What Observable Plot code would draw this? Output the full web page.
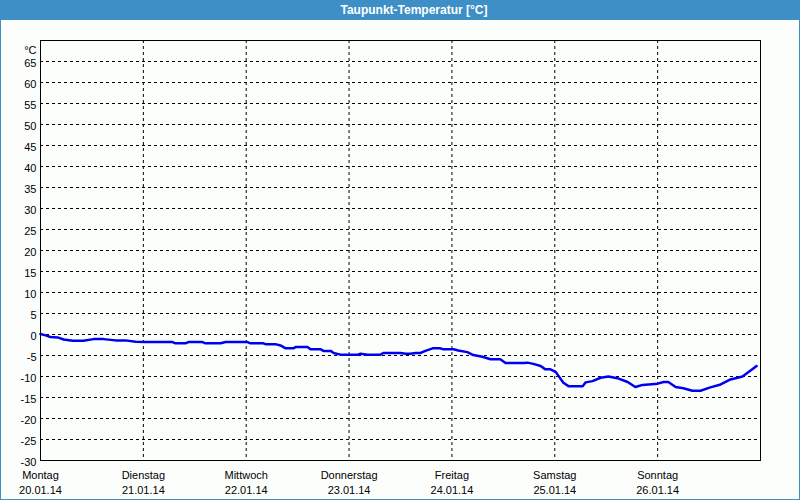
<!DOCTYPE html>
<html>
<head>
<meta charset="utf-8">
<script src="https://cdn.jsdelivr.net/npm/d3@7"></script>
<script src="https://cdn.jsdelivr.net/npm/@observablehq/plot@0.6"></script>
<style>
  html, body { margin: 0; padding: 0; background: #fcfefc; }
  #wrap { position: relative; width: 800px; height: 500px; overflow: hidden; background: #fcfefc; }
  #title { position: absolute; left: 0; top: 0; width: 800px; height: 20px; background: #3d8fc6;
           color: #fff; font: bold 12px "Liberation Sans", Arial, sans-serif; line-height: 20px; }
  #title span { position: absolute; left: 414px; top: 0; transform: translateX(-50%); white-space: nowrap; }
  #chart { position: absolute; left: 0; top: 20px; }
  .bl { position: absolute; background: #3d8fc6; }
</style>
</head>
<body>
<div id="wrap">
  <div id="title"><span>Taupunkt-Temperatur [°C]</span></div>
  <div id="chart"></div>
  <div class="bl" style="left:0;top:20px;width:1px;height:480px"></div>
  <div class="bl" style="left:799px;top:20px;width:1px;height:480px"></div>
  <div class="bl" style="left:0;top:499px;width:800px;height:1px"></div>
</div>
<script>
// Hours since Monday 20.01.14 00:00
const hours = [0,1.2,2.3,4,5.4,7.5,10,12.4,14.7,17.5,19.8,22.2,24.5,30.8,31.5,33.8,34.5,37.8,38.5,42,43.2,48.3,49,52,52.5,54.8,56,57.2,59,59.5,62.3,63,65.3,66,67.7,68.4,70,74,74.7,76.3,79.3,80,84,85.2,86.3,87.5,88.7,89.8,91.5,93.3,94,96.4,97.5,99.6,101,103.1,105,107.3,108.5,112.7,113.6,115,116.7,117.8,119,120.2,122,123.2,126.5,127.2,128.8,130.7,132.5,134.6,137,138.8,140.5,144,145.4,146.5,148.2,150,152.1,154,156.3,158.7,161,163.8,167.1];
// Dew point in °C
const dewpoint = [0.1,-0.2,-0.6,-0.7,-1.2,-1.5,-1.5,-1.1,-1.1,-1.4,-1.4,-1.7,-1.8,-1.8,-2.1,-2.1,-1.8,-1.8,-2.1,-2.1,-1.8,-1.8,-2.1,-2.1,-2.3,-2.3,-2.6,-3.3,-3.3,-3.0,-3.0,-3.5,-3.5,-3.9,-3.9,-4.4,-4.8,-4.8,-4.6,-4.8,-4.8,-4.4,-4.4,-4.6,-4.6,-4.4,-4.4,-3.9,-3.3,-3.3,-3.5,-3.5,-3.8,-4.2,-4.9,-5.3,-5.9,-5.9,-6.8,-6.8,-6.7,-7.0,-7.5,-8.3,-8.3,-8.9,-11.5,-12.3,-12.3,-11.4,-11.1,-10.3,-10.0,-10.4,-11.3,-12.5,-12.0,-11.7,-11.3,-11.3,-12.5,-12.8,-13.4,-13.4,-12.6,-11.9,-10.7,-10.0,-7.5];
const dayNames = ["Montag","Dienstag","Mittwoch","Donnerstag","Freitag","Samstag","Sonntag"];
const dayDates = ["20.01.14","21.01.14","22.01.14","23.01.14","24.01.14","25.01.14","26.01.14"];
const yTicks = [-30,-25,-20,-15,-10,-5,0,5,10,15,20,25,30,35,40,45,50,55,60,65];
const yUnit = "°C";

const start = Date.UTC(2014, 0, 20);
const end = Date.UTC(2014, 0, 27);
const dayStarts = dayNames.map((_, i) => new Date(start + i * 864e5));
const data = hours.map((h, i) => ({t: new Date(start + h * 3600e3), v: dewpoint[i]}));
const idx = d => Math.round((d - start) / 864e5);

const chart = Plot.plot({
  width: 800,
  height: 480,
  marginTop: 20,
  marginBottom: 40,
  marginLeft: 40,
  marginRight: 40,
  style: {fontFamily: '"Liberation Sans", Arial, sans-serif', fontSize: "11px", color: "#000", background: "transparent", overflow: "visible"},
  x: {type: "utc", domain: [new Date(start), new Date(end)], label: null},
  y: {domain: [-30, 70], label: null},
  marks: [
    Plot.ruleY(yTicks.filter(v => v > -30), {stroke: "#000", strokeWidth: 1, strokeDasharray: "3,3", strokeOpacity: 1}),
    Plot.ruleX(dayStarts.slice(1), {stroke: "#000", strokeWidth: 1, strokeDasharray: "3,3", strokeOpacity: 1}),
    Plot.line(data, {x: "t", y: "v", stroke: "#0000f0", strokeWidth: 2.5, curve: "linear"}),
    Plot.frame({stroke: "#000", strokeWidth: 1}),
    Plot.axisY({ticks: yTicks, tickSize: 0, tickPadding: 4, tickFormat: d => String(d), dy: 1.5, fontSize: 11, label: null}),
    Plot.text([yUnit], {frameAnchor: "top-left", text: d => d, dx: -4, dy: 6, textAnchor: "end", fontSize: 11, fill: "#000"}),
    Plot.axisX({ticks: dayStarts, tickSize: 0, tickPadding: 11, tickFormat: d => dayNames[idx(d)], fontSize: 11, label: null}),
    Plot.axisX({ticks: dayStarts, tickSize: 0, tickPadding: 26, tickFormat: d => dayDates[idx(d)], fontSize: 11, label: null})
  ]
});
document.getElementById("chart").appendChild(chart);
</script>
</body>
</html>
